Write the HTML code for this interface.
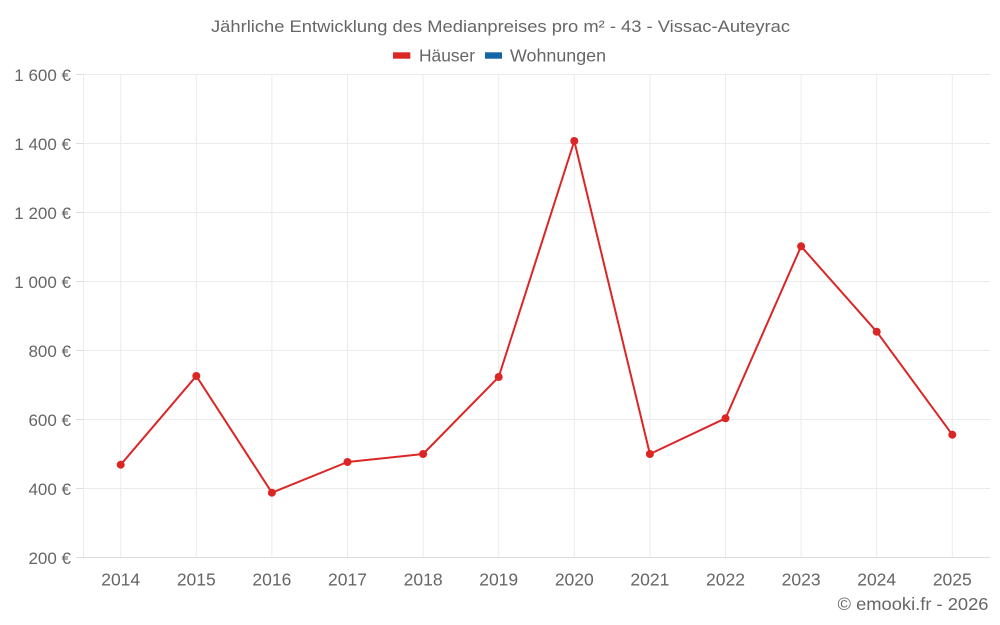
<!DOCTYPE html>
<html><head><meta charset="utf-8"><style>
html,body{margin:0;padding:0;background:#fff;}
svg{display:block;}
text{font-family:"Liberation Sans",Arial,sans-serif;fill:#666;}
</style></head><body>
<svg width="1000" height="625" viewBox="0 0 1000 625" xmlns="http://www.w3.org/2000/svg">
<text x="500.5" y="32" font-size="17" text-anchor="middle" textLength="579" lengthAdjust="spacingAndGlyphs">Jährliche Entwicklung des Medianpreises pro m² - 43 - Vissac-Auteyrac</text>
<rect x="393" y="52.3" width="17.3" height="6.4" fill="#dc2626"/>
<text x="419" y="61.5" font-size="17.5" textLength="56" lengthAdjust="spacingAndGlyphs">Häuser</text>
<rect x="485" y="52.3" width="17" height="6.4" fill="#1266a6"/>
<text x="510" y="61.5" font-size="17.5" textLength="96" lengthAdjust="spacingAndGlyphs">Wohnungen</text>
<g stroke="#ebebeb" stroke-width="1">
<line x1="83" y1="74.5" x2="990" y2="74.5"/>
<line x1="83" y1="143.5" x2="990" y2="143.5"/>
<line x1="83" y1="212.5" x2="990" y2="212.5"/>
<line x1="83" y1="281.5" x2="990" y2="281.5"/>
<line x1="83" y1="350.5" x2="990" y2="350.5"/>
<line x1="83" y1="419.5" x2="990" y2="419.5"/>
<line x1="83" y1="488.5" x2="990" y2="488.5"/>
<line x1="83.5" y1="74" x2="83.5" y2="557"/>
<line x1="120.7" y1="74" x2="120.7" y2="557"/>
<line x1="196.3" y1="74" x2="196.3" y2="557"/>
<line x1="271.9" y1="74" x2="271.9" y2="557"/>
<line x1="347.5" y1="74" x2="347.5" y2="557"/>
<line x1="423.1" y1="74" x2="423.1" y2="557"/>
<line x1="498.7" y1="74" x2="498.7" y2="557"/>
<line x1="574.3" y1="74" x2="574.3" y2="557"/>
<line x1="649.9" y1="74" x2="649.9" y2="557"/>
<line x1="725.5" y1="74" x2="725.5" y2="557"/>
<line x1="801.1" y1="74" x2="801.1" y2="557"/>
<line x1="876.7" y1="74" x2="876.7" y2="557"/>
<line x1="952.3" y1="74" x2="952.3" y2="557"/>
</g>
<g stroke="#dcdcdc" stroke-width="1">
<line x1="83" y1="557.5" x2="990" y2="557.5"/>
<line x1="76" y1="74.5" x2="83" y2="74.5"/>
<line x1="76" y1="143.5" x2="83" y2="143.5"/>
<line x1="76" y1="212.5" x2="83" y2="212.5"/>
<line x1="76" y1="281.5" x2="83" y2="281.5"/>
<line x1="76" y1="350.5" x2="83" y2="350.5"/>
<line x1="76" y1="419.5" x2="83" y2="419.5"/>
<line x1="76" y1="488.5" x2="83" y2="488.5"/>
<line x1="76" y1="557.5" x2="83" y2="557.5"/>
</g>
<g font-size="17" text-anchor="end">
<text x="71" y="81">1 600 €</text>
<text x="71" y="150">1 400 €</text>
<text x="71" y="219">1 200 €</text>
<text x="71" y="288">1 000 €</text>
<text x="71" y="357">800 €</text>
<text x="71" y="426">600 €</text>
<text x="71" y="495">400 €</text>
<text x="71" y="564">200 €</text>
</g>
<g font-size="17.5" text-anchor="middle">
<text x="120.7" y="585.7">2014</text>
<text x="196.3" y="585.7">2015</text>
<text x="271.9" y="585.7">2016</text>
<text x="347.5" y="585.7">2017</text>
<text x="423.1" y="585.7">2018</text>
<text x="498.7" y="585.7">2019</text>
<text x="574.3" y="585.7">2020</text>
<text x="649.9" y="585.7">2021</text>
<text x="725.5" y="585.7">2022</text>
<text x="801.1" y="585.7">2023</text>
<text x="876.7" y="585.7">2024</text>
<text x="952.3" y="585.7">2025</text>
</g>
<text x="988.5" y="610" font-size="17.5" text-anchor="end" textLength="151" lengthAdjust="spacingAndGlyphs">© emooki.fr - 2026</text>
<polyline fill="none" stroke="#dc2626" stroke-width="2" stroke-linejoin="round" points="120.7,464.7 196.3,376 271.9,492.7 347.5,462 423.1,454 498.7,377 574.3,141 649.9,454 725.5,418.3 801.1,246.3 876.7,331.7 952.3,434.7"/>
<g fill="#dc2626">
<circle cx="120.7" cy="464.7" r="4"/>
<circle cx="196.3" cy="376" r="4"/>
<circle cx="271.9" cy="492.7" r="4"/>
<circle cx="347.5" cy="462" r="4"/>
<circle cx="423.1" cy="454" r="4"/>
<circle cx="498.7" cy="377" r="4"/>
<circle cx="574.3" cy="141" r="4"/>
<circle cx="649.9" cy="454" r="4"/>
<circle cx="725.5" cy="418.3" r="4"/>
<circle cx="801.1" cy="246.3" r="4"/>
<circle cx="876.7" cy="331.7" r="4"/>
<circle cx="952.3" cy="434.7" r="4"/>
</g>
</svg>
</body></html>
